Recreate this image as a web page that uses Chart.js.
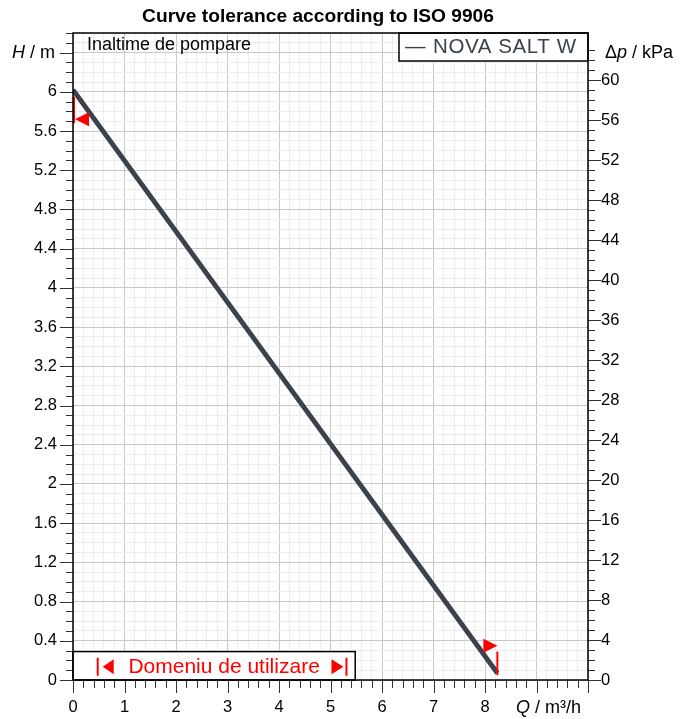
<!DOCTYPE html>
<html>
<head>
<meta charset="utf-8">
<script src="https://cdn.jsdelivr.net/npm/chart.js@4"></script>
<style>
  html, body { margin: 0; padding: 0; background: #fff; }
  #wrap { width: 686px; height: 719px; }
</style>
</head>
<body>
<div id="wrap"><canvas id="pumpChart"></canvas></div>
<script>
// pump curve NOVA SALT W (H over Q)
const seriesName = 'NOVA SALT W';
const flowQ = [0, 8.24];          // m3/h
const headH = [6.02, 0.07];       // m

// tolerance flags (ISO 9906): tip of the red flag + short red bar
const tolQ = [0, 8.24];
const tolH = [5.72, 0.35];
const tolDir = [-1, 1];
const tolBarFrom = [5.68, 0.05];
const tolBarTo = [5.95, 0.29];

// range of use shown in the lower box
const usageRange = [0.48, 5.31];
const usageBoxQ = 5.48;
const usageBoxH = 0.29;

// axes
const qMax = 10, qLabelMax = 8;
const hMax = 6.6, hLabelMax = 6, hTitleAt = 6.4;
const kpaPerM = 9.81;
const kpaLabelMax = 60;

const FONT = '"Liberation Sans", Arial, sans-serif';
Chart.defaults.font.family = FONT;
Chart.defaults.color = '#000';

const near = (v, step) => Math.abs(v / step - Math.round(v / step)) < 1e-6;

const overlay = {
  id: 'overlay',
  afterDraw(chart) {
    const { ctx, chartArea: a, scales } = chart;
    const x = scales.x, y = scales.y, y2 = scales.y2;
    ctx.save();

    // tick marks
    ctx.strokeStyle = '#333';
    ctx.lineWidth = 1;
    ctx.beginPath();
    x.ticks.forEach(t => {
      const px = Math.round(x.getPixelForValue(t.value)) + 0.5;
      const len = near(t.value, 1) ? 13 : 8;
      ctx.moveTo(px, a.bottom); ctx.lineTo(px, a.bottom + len);
    });
    y.ticks.forEach(t => {
      const py = Math.round(y.getPixelForValue(t.value)) + 0.5;
      const len = near(t.value, 0.4) ? 13 : 7;
      ctx.moveTo(a.left - len, py); ctx.lineTo(a.left, py);
    });
    y2.ticks.forEach(t => {
      if (!near(t.value, 1)) return;
      const py = Math.round(y2.getPixelForValue(t.value)) + 0.5;
      const len = near(t.value, 4) ? 13 : 7;
      ctx.moveTo(a.right, py); ctx.lineTo(a.right + len, py);
    });
    ctx.stroke();

    // tolerance flags
    ctx.fillStyle = '#ff0000';
    ctx.strokeStyle = '#ff0000';
    ctx.lineWidth = 2;
    tolQ.forEach((q, i) => {
      const px = x.getPixelForValue(q);
      ctx.beginPath();
      ctx.moveTo(px + (tolDir[i] < 0 ? 1 : 0), y.getPixelForValue(tolBarFrom[i]));
      ctx.lineTo(px + (tolDir[i] < 0 ? 1 : 0), y.getPixelForValue(tolBarTo[i]));
      ctx.stroke();
      const tipX = px + (tolDir[i] < 0 ? 2 : 0);
      const py = y.getPixelForValue(tolH[i]);
      ctx.beginPath();
      ctx.moveTo(tipX, py);
      ctx.lineTo(tipX - tolDir[i] * 14, py - 7);
      ctx.lineTo(tipX - tolDir[i] * 14, py + 7);
      ctx.closePath();
      ctx.fill();
    });

    // box with range of use
    const bx0 = x.getPixelForValue(0), bx1 = x.getPixelForValue(usageBoxQ);
    const by0 = y.getPixelForValue(usageBoxH);
    ctx.fillStyle = '#fff';
    ctx.fillRect(bx0, by0, bx1 - bx0, a.bottom - by0);
    ctx.strokeStyle = '#000';
    ctx.lineWidth = 1.5;
    ctx.strokeRect(bx0, by0, bx1 - bx0, a.bottom - by0);
    const u0 = x.getPixelForValue(usageRange[0]), u1 = x.getPixelForValue(usageRange[1]);
    const uy = (by0 + a.bottom) / 2 + 1;
    ctx.strokeStyle = '#ff0000';
    ctx.fillStyle = '#ff0000';
    ctx.lineWidth = 2;
    ctx.beginPath();
    ctx.moveTo(u0, uy - 9); ctx.lineTo(u0, uy + 9);
    ctx.moveTo(u1, uy - 9); ctx.lineTo(u1, uy + 9);
    ctx.stroke();
    ctx.beginPath();
    ctx.moveTo(u0 + 5, uy); ctx.lineTo(u0 + 16, uy - 7.5); ctx.lineTo(u0 + 16, uy + 7.5); ctx.closePath();
    ctx.moveTo(u1 - 3, uy); ctx.lineTo(u1 - 15, uy - 7.5); ctx.lineTo(u1 - 15, uy + 7.5); ctx.closePath();
    ctx.fill();
    ctx.font = '21px ' + FONT;
    ctx.textAlign = 'center';
    ctx.textBaseline = 'middle';
    ctx.fillText('Domeniu de utilizare', (u0 + u1) / 2 + 2, uy);

    // legend box
    const lx0 = a.right - 189;
    ctx.fillStyle = '#fff';
    ctx.fillRect(lx0, a.top, a.right - lx0, 28);
    ctx.strokeStyle = '#000';
    ctx.lineWidth = 1.5;
    ctx.strokeRect(lx0, a.top, a.right - lx0, 28);
    ctx.fillStyle = '#3b424b';
    ctx.font = '20.5px ' + FONT;
    ctx.textAlign = 'left';
    ctx.fillText('\u2014', lx0 + 6, a.top + 14);
    ctx.letterSpacing = '0.6px';
    ctx.fillText(seriesName, lx0 + 34, a.top + 14);
    ctx.letterSpacing = '0px';

    // plot frame
    ctx.strokeStyle = '#000';
    ctx.lineWidth = 1.5;
    ctx.strokeRect(a.left, a.top, a.right - a.left, a.bottom - a.top);

    // texts
    ctx.fillStyle = '#000';
    ctx.font = '18px ' + FONT;
    ctx.textAlign = 'left';
    ctx.fillText('Inaltime de pompare', a.left + 14, a.top + 12);

    ctx.font = 'bold 19.2px ' + FONT;
    ctx.textAlign = 'center';
    ctx.fillText('Curve tolerance according to ISO 9906', 318, 17);

    const part = (txt, italic, px, py) => {
      ctx.font = (italic ? 'italic ' : '') + '18px ' + FONT;
      ctx.fillText(txt, px, py);
      return ctx.measureText(txt).width;
    };
    ctx.textAlign = 'left';
    // H / m at left
    const hy = y.getPixelForValue(hTitleAt);
    ctx.font = 'italic 18px ' + FONT;
    const wH = ctx.measureText('H').width;
    ctx.font = '18px ' + FONT;
    const wRest = ctx.measureText(' / m').width;
    let cx = 55 - wH - wRest;
    cx += part('H', true, cx, hy);
    part(' / m', false, cx, hy);
    // Δp / kPa at right
    cx = a.right + 17;
    cx += part('\u0394', false, cx, hy);
    cx += part('p', true, cx, hy);
    part(' / kPa', false, cx, hy);
    // Q / m³/h at bottom
    cx = 516;
    cx += part('Q', true, cx, 708);
    part(' / m\u00b3/h', false, cx, 708);

    ctx.restore();
  }
};

new Chart(document.getElementById('pumpChart'), {
  type: 'line',
  data: {
    datasets: [{
      label: seriesName,
      data: flowQ.map((q, i) => ({ x: q, y: headH[i] })),
      borderColor: '#3b424b',
      borderWidth: 5,
      pointRadius: 0,
      fill: false,
      yAxisID: 'y'
    }]
  },
  options: {
    responsive: true,
    maintainAspectRatio: false,
    animation: false,
    events: [],
    layout: { padding: { top: 33, left: 0, right: 0, bottom: 0 } },
    plugins: { legend: { display: false }, tooltip: { enabled: false }, title: { display: false } },
    scales: {
      x: {
        type: 'linear', position: 'bottom', min: 0, max: qMax,
        ticks: {
          stepSize: 0.2, autoSkip: false, maxRotation: 0, padding: 18,
          font: { size: 16.5 },
          callback: v => (near(v, 1) && v <= qLabelMax) ? String(Math.round(v)) : ''
        },
        grid: {
          drawTicks: false, lineWidth: 1,
          color: c => near(c.tick.value, 1) ? '#c8c8c8' : '#ededed'
        },
        border: { display: false },
        afterFit: s => { s.height = 39; }
      },
      y: {
        type: 'linear', position: 'left', min: 0, max: hMax,
        ticks: {
          stepSize: 0.1, autoSkip: false, padding: 16,
          font: { size: 16.5 },
          callback: v => (near(v, 0.4) && v <= hLabelMax + 1e-6) ? String(Math.round(v * 10) / 10) : ''
        },
        grid: {
          drawTicks: false, lineWidth: 1,
          color: c => near(c.tick.value, 0.4) ? '#c8c8c8' : '#ededed'
        },
        border: { display: false },
        afterFit: s => { s.width = 73; }
      },
      y2: {
        type: 'linear', position: 'right', min: 0, max: hMax * kpaPerM,
        ticks: {
          stepSize: 1, autoSkip: false, padding: 13,
          font: { size: 16.5 },
          callback: v => (near(v, 4) && v <= kpaLabelMax) ? String(Math.round(v)) : ''
        },
        grid: { display: false, drawTicks: false },
        border: { display: false },
        afterFit: s => { s.width = 98; }
      }
    }
  },
  plugins: [overlay]
});
</script>
</body>
</html>
